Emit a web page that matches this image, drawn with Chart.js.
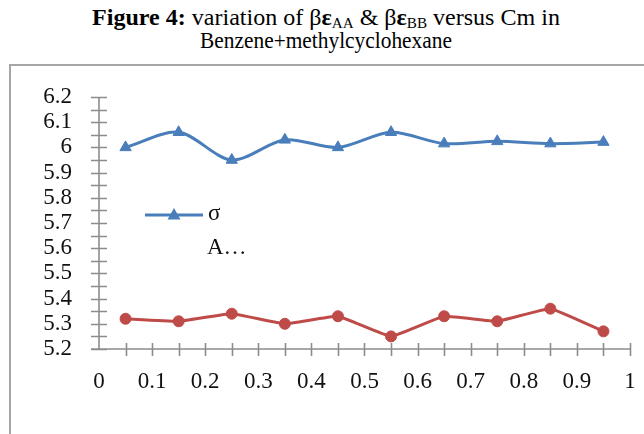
<!DOCTYPE html>
<html>
<head>
<meta charset="utf-8">
<script src="https://cdn.jsdelivr.net/npm/chart.js@4"></script>
<style>
  html, body { margin: 0; padding: 0; background: #fff; width: 644px; height: 434px; overflow: hidden; }
  .t { position: absolute; left: 0; width: 652px; text-align: center; white-space: nowrap;
       font-family: "Liberation Serif", "Times New Roman", serif; color: #000; transform-origin: 326px 0; }
  #t1 { top: 6px; font-size: 23px; line-height: 23px; transform: scaleX(1.045); }
  #t2 { top: 29px; font-size: 23px; line-height: 23px; transform: scaleX(0.93); }
  #t1 sub { font-size: 14.5px; vertical-align: -3px; line-height: 0; }
  #box { position: absolute; left: 9px; top: 64px; width: 700px; height: 420px; border: 2px solid #a6a6a6; }
  #wrap { position: absolute; left: 0; top: 0; width: 644px; height: 434px; }
</style>
</head>
<body>
<div class="t" id="t1"><b>Figure 4:</b> variation of β<b>ε</b><sub>AA</sub> &amp; β<b>ε</b><sub>BB</sub> versus Cm in</div>
<div class="t" id="t2">Benzene+methylcyclohexane</div>
<div id="box"></div>
<div id="wrap"><canvas id="c" width="644" height="434"></canvas></div>
<script>
// ---- data ----
const cm = [0.05, 0.15, 0.25, 0.35, 0.45, 0.55, 0.65, 0.75, 0.85, 0.95];
const sigmaValues = [6.00, 6.06, 5.95, 6.03, 6.00, 6.06, 6.015, 6.024, 6.015, 6.021];
const aValues = [5.32, 5.31, 5.34, 5.30, 5.33, 5.25, 5.33, 5.31, 5.36, 5.27];
const seriesLabels = ["σ", "A…"];
const xTickValues = [0, 0.1, 0.2, 0.3, 0.4, 0.5, 0.6, 0.7, 0.8, 0.9, 1];
const yTickValues = [5.2, 5.3, 5.4, 5.5, 5.6, 5.7, 5.8, 5.9, 6, 6.1, 6.2];
const minorStep = 0.05;

const BLUE = '#4a7ebb';
const RED = '#be4b48';
const AXIS = '#8c8c8c';
const FONT = '"Liberation Serif", "Times New Roman", serif';

function toXY(xs, ys) { return xs.map((x, i) => ({ x: x, y: ys[i] })); }
function fmt(v) { return String(Number(v.toFixed(2))); }

// axes with ticks crossing the axis line
const crossTicks = {
  id: 'crossTicks',
  afterDatasetsDraw(chart) {
    const ctx = chart.ctx, xs = chart.scales.x, ys = chart.scales.y;
    const ax = xs.getPixelForValue(xs.min), ay = ys.getPixelForValue(ys.min);
    ctx.save();
    ctx.strokeStyle = AXIS;
    ctx.lineWidth = 1.6;
    ctx.beginPath();
    ctx.moveTo(ax - 8, ay); ctx.lineTo(xs.getPixelForValue(xs.max), ay);
    ctx.moveTo(ax, ys.getPixelForValue(ys.max)); ctx.lineTo(ax, ay);
    for (let v = ys.min; v <= ys.max + 1e-9; v += minorStep) {
      const py = Math.round(ys.getPixelForValue(v)) + 0.5;
      ctx.moveTo(ax - 8, py); ctx.lineTo(ax + 8, py);
    }
    for (let v = xs.min + minorStep; v <= xs.max + 1e-9; v += minorStep) {
      const px = Math.round(xs.getPixelForValue(v)) + 0.5;
      ctx.moveTo(px, ay - 6); ctx.lineTo(px, ay + 7);
    }
    ctx.stroke();
    ctx.restore();
  }
};

// legend drawn inside the plot like the reference
const innerLegend = {
  id: 'innerLegend',
  afterDraw(chart) {
    const ctx = chart.ctx;
    const x0 = 145, y0 = 215;
    const ds0 = chart.data.datasets[0];
    ctx.save();
    ctx.strokeStyle = ds0.borderColor;
    ctx.lineWidth = 3;
    ctx.beginPath(); ctx.moveTo(x0, y0); ctx.lineTo(x0 + 58, y0); ctx.stroke();
    ctx.fillStyle = ds0.pointBackgroundColor;
    ctx.beginPath();
    ctx.moveTo(x0 + 29, y0 - 7); ctx.lineTo(x0 + 35.5, y0 + 4.5); ctx.lineTo(x0 + 22.5, y0 + 4.5); ctx.closePath();
    ctx.fill();
    ctx.fillStyle = '#111';
    ctx.font = '23px ' + FONT;
    ctx.textBaseline = 'middle';
    ctx.textAlign = 'left';
    ctx.fillText(chart.data.datasets[0].label, x0 + 63, y0 - 1);
    ctx.fillText(chart.data.datasets[1].label, x0 + 62, y0 + 33);
    ctx.restore();
  }
};

new Chart(document.getElementById('c'), {
  type: 'line',
  data: {
    datasets: [
      {
        label: seriesLabels[0],
        data: toXY(cm, sigmaValues),
        borderColor: BLUE, backgroundColor: BLUE,
        pointBackgroundColor: BLUE, pointBorderColor: BLUE,
        borderWidth: 3, tension: 0.3,
        pointStyle: 'triangle', pointRadius: 6.5, pointBorderWidth: 1
      },
      {
        label: seriesLabels[1],
        data: toXY(cm, aValues),
        borderColor: RED, backgroundColor: RED,
        pointBackgroundColor: RED, pointBorderColor: RED,
        borderWidth: 3, tension: 0.1,
        pointStyle: 'circle', pointRadius: 5.5, pointBorderWidth: 1
      }
    ]
  },
  options: {
    responsive: false,
    animation: false,
    events: [],
    layout: { padding: { left: 0, right: 14, top: 97, bottom: 0 } },
    plugins: { legend: { display: false }, title: { display: false }, tooltip: { enabled: false } },
    scales: {
      x: {
        type: 'linear',
        min: xTickValues[0], max: xTickValues[xTickValues.length - 1],
        afterBuildTicks: s => { s.ticks = xTickValues.map(v => ({ value: v })); },
        afterFit: s => { s.height = 85; },
        grid: { display: false, drawTicks: false, tickLength: 0 },
        border: { display: false },
        ticks: { color: '#111', font: { family: FONT, size: 23, lineHeight: 2.9 }, padding: 0, maxRotation: 0, autoSkip: false,
                 callback: v => fmt(v) }
      },
      y: {
        type: 'linear',
        min: yTickValues[0], max: yTickValues[yTickValues.length - 1],
        afterBuildTicks: s => { s.ticks = yTickValues.map(v => ({ value: v })); },
        afterFit: s => { s.width = 99; },
        grid: { display: false, drawTicks: false, tickLength: 0 },
        border: { display: false },
        ticks: { color: '#111', font: { family: FONT, size: 23 }, padding: 27, autoSkip: false,
                 callback: v => fmt(v) }
      }
    }
  },
  plugins: [crossTicks, innerLegend]
});
</script>
</body>
</html>
